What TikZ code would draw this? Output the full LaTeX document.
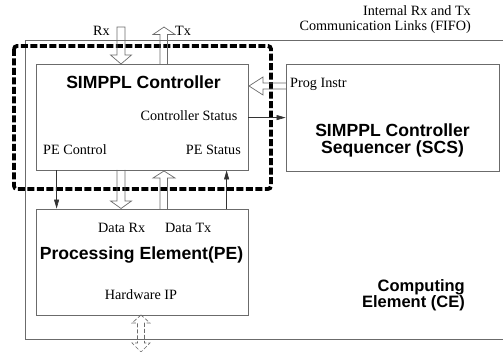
\documentclass[tikz,border=0pt]{standalone}
\usepackage{fontspec}
\setmainfont{Liberation Serif}
\newfontfamily\hv{Liberation Sans}
\usetikzlibrary{arrows.meta,calc}
\definecolor{ln}{gray}{0.42}
\begin{document}
\begin{tikzpicture}[x=1pt,y=-1pt,
  box/.style={draw=ln, line width=0.8pt, rectangle, inner sep=0pt},
  txt/.style={inner sep=0pt, font=\fontsize{14.2}{15}\selectfont},
  big/.style={inner sep=0pt, font=\hv\bfseries\fontsize{17.6}{16.5}\selectfont},
  cebig/.style={inner sep=0pt, font=\hv\bfseries\fontsize{16.5}{16}\selectfont},
  harrow/.style={draw=ln, line width=0.7pt},
  sarrow/.style={draw=black!80, line width=0.6pt, -{Triangle[length=9pt,width=5pt]}},
  thickdash/.style={draw=black, line width=3.8pt, dash pattern=on 7pt off 2.5pt, rounded corners=3pt}]
\useasboundingbox (0,0) rectangle (503,352);
\clip (0,0) rectangle (503,352);
% boxes
\coordinate (cenw) at (25,40.5);
\coordinate (cesw) at (25,339);
\draw[draw=ln, line width=0.8pt] ([xshift=500pt]cenw) -- (cenw) -- (cesw) -- ([xshift=500pt]cesw);
\node[box, minimum width=212pt, minimum height=106pt] (ctrl) at (142,117) {};
\node[box, minimum width=213pt, minimum height=107pt] (scs) at (392.5,117.5) {};
\node[box, minimum width=212pt, minimum height=106pt] (pe) at (142,262) {};
% dashed boundary
\draw[thickdash] (14,46) rectangle (271,189);
% texts
\node[txt, anchor=east, align=right] (fifo) at (471,19.5) {Internal Rx and Tx\\Communication Links (FIFO)};
\node[txt] (rx) at (101.5,31) {Rx};
\node[txt] (tx) at (183,31) {Tx};
\node[big] (ctrlt) at (143.5,82) {SIMPPL Controller};
\node[txt, anchor=east] (cst) at (237.5,116) {Controller Status};
\node[txt, anchor=west] (pec) at (43,150) {PE Control};
\node[txt, anchor=east] (pes) at (241,150) {PE Status};
\node[txt, anchor=west] (pi) at (290,84) {Prog Instr};
\node[big, align=center] (scst) at (392.5,140.5) {SIMPPL Controller\\Sequencer (SCS)};
\node[txt, anchor=west] (drx) at (98,228) {Data Rx};
\node[txt, anchor=west] (dtx) at (165,228) {Data Tx};
\node[big] (pet) at (141.5,255) {Processing Element(PE)};
\node[txt] (hw) at (141,295) {Hardware IP};
\node[cebig, anchor=east, align=right] (cet) at (465,295.5) {Computing\\Element (CE)};
% hollow arrows
\draw[harrow] (117,27) -- (117,55) -- (110.5,55) -- (121,64) -- (131.5,55) -- (125,55) -- (125,27) -- cycle;
\draw[harrow] (160,64) -- (160,34.5) -- (153,34.5) -- (164,27) -- (175,34.5) -- (167.5,34.5) -- (167.5,64);
\draw[harrow] (117,170) -- (117,201) -- (110.5,201) -- (121,208.5) -- (131.5,201) -- (125,201) -- (125,170);
\draw[harrow] (160,209) -- (160,178) -- (153,178) -- (164,171) -- (175,178) -- (167.5,178) -- (167.5,209);
\draw[harrow] (286,83) -- (263,83) -- (263,77) -- (249,86) -- (263,95) -- (263,89) -- (286,89);
\draw[harrow, dash pattern=on 4pt off 2pt] (141,315) -- (132,323) -- (137.5,323) -- (137.5,343) -- (132,343) -- (141,352) -- (150,343) -- (144.5,343) -- (144.5,323) -- (150,323) -- cycle;
% simple arrows
\draw[sarrow] ($(ctrl.south west)+(21,0)$) -- ($(pe.north west)+(21,0)$);
\draw[sarrow] ($(pe.north west)+(191,0)$) -- ($(ctrl.south west)+(191,0)$);
\draw[sarrow] ($(ctrl.north east)+(0,54)$) -- ($(scs.north west)+(0,54)$);
\end{tikzpicture}
\end{document}
